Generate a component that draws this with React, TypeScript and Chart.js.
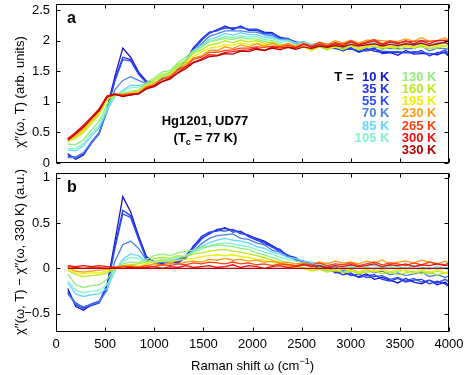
import React, { useEffect, useRef } from "react";
import { Chart, registerables } from "chart.js";
Chart.register(...registerables);

const FONT = "'Liberation Sans', Arial, Helvetica, sans-serif";

// Raman shift grid (cm^-1)
const ramanShift = [
  120, 200, 280, 360, 440, 520, 600, 680, 760, 840,
  920, 1000, 1080, 1160, 1240, 1320, 1400, 1480, 1560, 1640,
  1720, 1800, 1880, 1960, 2040, 2120, 2200, 2280, 2360, 2440,
  2520, 2600, 2680, 2760, 2840, 2920, 3000, 3080, 3160, 3240,
  3320, 3400, 3480, 3560, 3640, 3720, 3800, 3880, 3960, 4000,
];

const temperatures = ["10", "35", "55", "70", "85", "105", "130", "160", "195", "230", "265", "300", "330"];
const seriesColors = [
  "#1616c8", "#2233ec", "#2c4ef4", "#4a80e8", "#66d6ff", "#7ff5c8", "#8ef07a",
  "#b8e818", "#eeee00", "#ff9a10", "#ff4010", "#ee1010", "#b40000",
];

// chi''(w, 330 K), panel a
const chi330K = [
  0.37, 0.48, 0.59, 0.73, 0.86, 1.08, 1.12, 1.09, 1.11, 1.13,
  1.21, 1.25, 1.33, 1.37, 1.47, 1.54, 1.64, 1.68, 1.74, 1.75,
  1.79, 1.78, 1.83, 1.82, 1.86, 1.84, 1.88, 1.85, 1.89, 1.86,
  1.90, 1.87, 1.91, 1.89, 1.92, 1.90, 1.94, 1.91, 1.93, 1.95,
  1.91, 1.94, 1.92, 1.95, 1.93, 1.96, 1.92, 1.95, 1.97, 1.94,
];

// chi''(w, T) - chi''(w, 330 K), panel b
const diff10K = [
  -0.22, -0.42, -0.46, -0.40, -0.37, -0.18, 0.30, 0.79, 0.62, 0.36,
  0.13, 0.07, 0.05, 0.08, 0.06, 0.12, 0.25, 0.33, 0.38, 0.43,
  0.44, 0.42, 0.40, 0.36, 0.33, 0.30, 0.25, 0.20, 0.14, 0.12,
  0.06, 0.04, 0.00, 0.02, -0.05, -0.04, -0.07, -0.09, -0.06, -0.12,
  -0.10, -0.13, -0.16, -0.11, -0.15, -0.17, -0.13, -0.18, -0.15, -0.19,
];
const diff35K = [
  -0.25, -0.40, -0.44, -0.41, -0.38, -0.20, 0.25, 0.64, 0.58, 0.34,
  0.12, 0.06, 0.08, 0.05, 0.09, 0.14, 0.24, 0.35, 0.40, 0.41,
  0.45, 0.40, 0.41, 0.35, 0.31, 0.29, 0.23, 0.21, 0.13, 0.10,
  0.07, 0.02, 0.03, -0.02, -0.03, -0.07, -0.05, -0.10, -0.08, -0.07,
  -0.12, -0.14, -0.11, -0.15, -0.13, -0.12, -0.17, -0.14, -0.17, -0.20,
];
const diff55K = [
  -0.27, -0.38, -0.43, -0.39, -0.36, -0.22, 0.22, 0.60, 0.56, 0.32,
  0.10, 0.07, 0.04, 0.09, 0.07, 0.11, 0.22, 0.32, 0.39, 0.42,
  0.41, 0.43, 0.38, 0.37, 0.32, 0.27, 0.24, 0.18, 0.15, 0.09,
  0.08, 0.03, 0.01, 0.00, -0.04, -0.03, -0.08, -0.06, -0.10, -0.09,
  -0.08, -0.12, -0.10, -0.14, -0.11, -0.15, -0.13, -0.16, -0.12, -0.15,
];
const diff70K = [
  -0.28, -0.39, -0.42, -0.40, -0.37, -0.24, 0.08, 0.26, 0.30, 0.22,
  0.09, 0.06, 0.07, 0.05, 0.10, 0.12, 0.19, 0.27, 0.33, 0.36,
  0.37, 0.38, 0.33, 0.32, 0.28, 0.26, 0.20, 0.18, 0.13, 0.10,
  0.08, 0.05, 0.04, 0.01, 0.02, -0.02, -0.01, -0.04, -0.02, -0.05,
  -0.03, -0.07, -0.05, -0.08, -0.06, -0.04, -0.09, -0.07, -0.10, -0.08,
];
const diff85K = [
  -0.16, -0.28, -0.31, -0.29, -0.28, -0.22, -0.03, 0.10, 0.16, 0.14,
  0.08, 0.06, 0.09, 0.08, 0.11, 0.14, 0.19, 0.24, 0.28, 0.31,
  0.33, 0.31, 0.30, 0.28, 0.24, 0.22, 0.18, 0.16, 0.12, 0.11,
  0.08, 0.07, 0.05, 0.06, 0.03, 0.05, 0.04, 0.02, 0.05, 0.03,
  0.01, 0.04, 0.02, 0.00, 0.03, 0.01, -0.01, 0.02, 0.00, 0.01,
];
const diff105K = [
  -0.14, -0.24, -0.27, -0.25, -0.24, -0.18, -0.02, 0.08, 0.12, 0.11,
  0.07, 0.08, 0.10, 0.09, 0.12, 0.14, 0.18, 0.21, 0.25, 0.27,
  0.28, 0.27, 0.25, 0.24, 0.21, 0.18, 0.16, 0.12, 0.10, 0.08,
  0.06, 0.04, 0.05, 0.02, 0.03, 0.01, 0.02, 0.00, 0.02, -0.01,
  0.01, 0.02, -0.01, 0.01, 0.00, -0.02, 0.01, -0.01, 0.00, -0.02,
];
const diff130K = [
  -0.06, -0.18, -0.21, -0.19, -0.18, -0.12, 0.00, 0.05, 0.07, 0.06,
  0.10, 0.14, 0.16, 0.14, 0.17, 0.19, 0.20, 0.23, 0.24, 0.26,
  0.25, 0.24, 0.22, 0.21, 0.17, 0.15, 0.12, 0.09, 0.05, 0.03,
  0.01, -0.02, 0.00, -0.03, -0.01, -0.04, -0.02, -0.05, -0.02, -0.04,
  -0.01, -0.05, -0.03, -0.02, -0.05, -0.03, -0.06, -0.03, -0.05, -0.04,
];
const diff160K = [
  -0.02, -0.07, -0.09, -0.08, -0.07, -0.05, 0.00, 0.03, 0.04, 0.05,
  0.07, 0.11, 0.12, 0.11, 0.14, 0.13, 0.16, 0.17, 0.19, 0.20,
  0.21, 0.19, 0.18, 0.16, 0.14, 0.12, 0.09, 0.07, 0.04, 0.02,
  0.00, -0.03, -0.01, -0.04, -0.02, -0.05, -0.03, -0.06, -0.04, -0.03,
  -0.06, -0.04, -0.07, -0.05, -0.03, -0.06, -0.04, -0.07, -0.05, -0.06,
];
const diff195K = [
  0.00, -0.05, -0.06, -0.05, -0.05, -0.03, 0.00, 0.02, 0.03, 0.02,
  0.05, 0.07, 0.08, 0.07, 0.09, 0.10, 0.11, 0.13, 0.14, 0.15,
  0.14, 0.15, 0.13, 0.12, 0.10, 0.09, 0.07, 0.05, 0.03, 0.02,
  0.00, -0.02, 0.01, -0.01, -0.03, 0.00, -0.02, -0.04, -0.01, -0.03,
  -0.02, -0.04, -0.01, -0.03, -0.05, -0.02, -0.04, -0.02, -0.05, -0.03,
];
const diff230K = [
  0.01, -0.03, -0.04, -0.03, -0.02, -0.01, 0.01, 0.03, 0.03, 0.02,
  0.03, 0.05, 0.04, 0.06, 0.05, 0.07, 0.08, 0.07, 0.10, 0.09,
  0.11, 0.09, 0.10, 0.08, 0.09, 0.07, 0.08, 0.06, 0.07, 0.05,
  0.06, 0.04, 0.07, 0.05, 0.08, 0.06, 0.07, 0.05, 0.08, 0.06,
  0.09, 0.05, 0.07, 0.08, 0.06, 0.09, 0.07, 0.05, 0.08, 0.06,
];
const diff265K = [
  0.02, 0.01, 0.00, 0.01, 0.01, 0.00, 0.01, 0.02, 0.02, 0.01,
  0.03, 0.02, 0.04, 0.03, 0.05, 0.04, 0.06, 0.05, 0.07, 0.06,
  0.05, 0.07, 0.05, 0.06, 0.04, 0.05, 0.03, 0.05, 0.04, 0.03,
  0.05, 0.04, 0.06, 0.03, 0.05, 0.04, 0.06, 0.03, 0.05, 0.07,
  0.04, 0.06, 0.05, 0.03, 0.06, 0.04, 0.07, 0.05, 0.04, 0.06,
];
const diff300K = [
  0.03, 0.02, 0.03, 0.02, 0.03, 0.02, 0.01, 0.00, 0.01, 0.00,
  0.01, 0.02, 0.00, 0.02, 0.01, 0.03, 0.01, 0.02, 0.03, 0.01,
  0.02, 0.04, 0.01, 0.03, 0.02, 0.00, 0.02, 0.03, 0.01, 0.02,
  0.04, 0.02, 0.03, 0.01, 0.03, 0.02, 0.04, 0.02, 0.03, 0.05,
  0.02, 0.04, 0.03, 0.05, 0.02, 0.04, 0.03, 0.05, 0.03, 0.04,
];
const diff330K = [
  0, 0, 0, 0, 0, 0, 0, 0, 0, 0,
  0, 0, 0, 0, 0, 0, 0, 0, 0, 0,
  0, 0, 0, 0, 0, 0, 0, 0, 0, 0,
  0, 0, 0, 0, 0, 0, 0, 0, 0, 0,
  0, 0, 0, 0, 0, 0, 0, 0, 0, 0,
];
const diffSeries = [
  diff10K, diff35K, diff55K, diff70K, diff85K, diff105K, diff130K,
  diff160K, diff195K, diff230K, diff265K, diff300K, diff330K,
];

// axis ticks
const xTicks = [0, 500, 1000, 1500, 2000, 2500, 3000, 3500, 4000];
const yTicksA = [0, 0.5, 1, 1.5, 2, 2.5];
const yTicksB = [-0.5, 0, 0.5, 1];

const sampleName = "Hg1201, UD77";

function makeDatasets(panel: "a" | "b") {
  return temperatures.map((t, k) => ({
    label: t + " K",
    data: ramanShift.map((x, i) => ({
      x,
      y: panel === "b" ? diffSeries[k][i] : +(chi330K[i] + diffSeries[k][i]).toFixed(3),
    })),
    borderColor: seriesColors[k],
    backgroundColor: seriesColors[k],
    borderWidth: 1.3,
    pointRadius: 0,
    fill: false,
    tension: 0,
    order: temperatures.length - k,
  }));
}

const framePlugin = {
  id: "frame",
  afterDatasetsDraw(chart: any, _a: any, opts: any) {
    const { ctx, chartArea, scales } = chart;
    const { left, right, top, bottom } = chartArea;
    ctx.save();
    ctx.strokeStyle = "#000";
    ctx.lineWidth = 1;
    const L = Math.round(left) + 0.5, R = Math.round(right) - 0.5;
    const T = Math.round(top) + 0.5, B = Math.round(bottom) - 0.5;
    ctx.strokeRect(L, T, R - L, B - T);
    ctx.beginPath();
    for (const v of xTicks) {
      const px = Math.round(scales.x.getPixelForValue(v)) + 0.5;
      ctx.moveTo(px, B); ctx.lineTo(px, B - 4);
      ctx.moveTo(px, T); ctx.lineTo(px, T + 4);
    }
    for (const v of opts.yTicks as number[]) {
      const py = Math.round(scales.y.getPixelForValue(v)) + 0.5;
      ctx.moveTo(L, py); ctx.lineTo(L + 4, py);
      ctx.moveTo(R, py); ctx.lineTo(R - 4, py);
    }
    ctx.stroke();
    ctx.restore();
  },
};

function drawRotated(ctx: CanvasRenderingContext2D, text: string, x: number, y: number) {
  ctx.save();
  ctx.translate(x, y);
  ctx.rotate(-Math.PI / 2);
  ctx.textAlign = "center";
  ctx.textBaseline = "middle";
  ctx.fillText(text, 0, 0);
  ctx.restore();
}

const annotA = {
  id: "annotA",
  afterDraw(chart: any) {
    const ctx: CanvasRenderingContext2D = chart.ctx;
    ctx.save();
    ctx.fillStyle = "#000";
    ctx.textBaseline = "alphabetic";
    ctx.font = "bold 16px " + FONT;
    ctx.textAlign = "left";
    ctx.fillText("a", 67, 23);

    ctx.font = "bold 13px " + FONT;
    ctx.textAlign = "center";
    ctx.fillText(sampleName, 205, 125);
    // (Tc = 77 K)
    ctx.textAlign = "left";
    const p1 = "(T", p2 = "c", p3 = " = 77 K)";
    ctx.font = "bold 13px " + FONT;
    const w1 = ctx.measureText(p1).width, w3 = ctx.measureText(p3).width;
    ctx.font = "bold 9px " + FONT;
    const w2 = ctx.measureText(p2).width;
    const x0 = 205.5 - (w1 + w2 + w3) / 2;
    ctx.font = "bold 13px " + FONT;
    ctx.fillText(p1, x0, 142);
    ctx.font = "bold 9px " + FONT;
    ctx.fillText(p2, x0 + w1, 145);
    ctx.font = "bold 13px " + FONT;
    ctx.fillText(p3, x0 + w1 + w2, 142);

    // legend
    ctx.textAlign = "right";
    ctx.fillStyle = "#000";
    ctx.fillText("T =", 353.5, 80.5);
    temperatures.forEach((t, k) => {
      const col = k < 6 ? 0 : 1;
      const row = k < 6 ? k : k - 6;
      ctx.fillStyle = seriesColors[k];
      ctx.fillText(t + " K", col === 0 ? 389.5 : 436.5, 80.5 + row * 12.3);
    });

    ctx.fillStyle = "#000";
    ctx.font = "13px " + FONT;
    drawRotated(ctx, "\u03C7\u2032\u2032(\u03C9, T) (arb. units)", 20, 92);
    ctx.restore();
  },
};

const annotB = {
  id: "annotB",
  afterDraw(chart: any) {
    const ctx: CanvasRenderingContext2D = chart.ctx;
    ctx.save();
    ctx.fillStyle = "#000";
    ctx.textBaseline = "alphabetic";
    ctx.font = "bold 16px " + FONT;
    ctx.textAlign = "left";
    ctx.fillText("b", 67, 32);

    ctx.font = "13px " + FONT;
    drawRotated(ctx, "\u03C7\u2032\u2032(\u03C9, T) \u2212 \u03C7\u2032\u2032(\u03C9, 330 K) (a.u.)", 20, 92);

    // x title
    const p1 = "Raman shift \u03C9 (cm", p2 = "\u22121", p3 = ")";
    ctx.font = "13px " + FONT;
    const w1 = ctx.measureText(p1).width, w3 = ctx.measureText(p3).width;
    ctx.font = "9px " + FONT;
    const w2 = ctx.measureText(p2).width;
    const x0 = 252.5 - (w1 + w2 + w3) / 2;
    ctx.textAlign = "left";
    ctx.font = "13px " + FONT;
    ctx.fillText(p1, x0, 210);
    ctx.font = "9px " + FONT;
    ctx.fillText(p2, x0 + w1, 204);
    ctx.font = "13px " + FONT;
    ctx.fillText(p3, x0 + w1 + w2, 210);
    ctx.restore();
  },
};

const tickFont = { family: FONT, size: 13 };
const fmt = (v: any) => String(v).replace("-", "\u2212");

const fixX = (h: number) => (s: any) => {
  s.height = h;
  s.paddingLeft = 0;
  s.paddingRight = 0;
  s.paddingTop = 0;
  s.paddingBottom = 0;
};
const fixY = (s: any) => {
  s.width = 56;
  s.paddingTop = 0;
  s.paddingBottom = 0;
  s.paddingLeft = 0;
  s.paddingRight = 0;
};

export default function App() {
  const refA = useRef<HTMLCanvasElement>(null);
  const refB = useRef<HTMLCanvasElement>(null);

  useEffect(() => {
    const chartA = new Chart(refA.current as HTMLCanvasElement, {
      type: "line",
      data: { datasets: makeDatasets("a") as any },
      plugins: [framePlugin, annotA],
      options: {
        animation: false,
        responsive: false,
        events: [],
        layout: { padding: { left: 0, top: 4, right: 18, bottom: 0 } },
        plugins: {
          legend: { display: false },
          tooltip: { enabled: false },
          frame: { yTicks: yTicksA },
        } as any,
        scales: {
          x: {
            type: "linear",
            min: 0,
            max: 4000,
            grid: { display: false, drawTicks: false },
            border: { display: false },
            ticks: { display: false },
            afterBuildTicks: (s: any) => { s.ticks = xTicks.map((value) => ({ value })); },
            afterFit: fixX(12),
          },
          y: {
            type: "linear",
            min: 0,
            max: 2.6,
            grid: { display: false, drawTicks: false },
            border: { display: false },
            ticks: { font: tickFont, color: "#000", padding: 6, callback: fmt },
            afterBuildTicks: (s: any) => { s.ticks = yTicksA.map((value) => ({ value })); },
            afterFit: fixY,
          },
        },
      } as any,
    });

    const chartB = new Chart(refB.current as HTMLCanvasElement, {
      type: "line",
      data: { datasets: makeDatasets("b") as any },
      plugins: [framePlugin, annotB],
      options: {
        animation: false,
        responsive: false,
        events: [],
        layout: { padding: { left: 0, top: 13, right: 18, bottom: 0 } },
        plugins: {
          legend: { display: false },
          tooltip: { enabled: false },
          frame: { yTicks: yTicksB },
        } as any,
        scales: {
          x: {
            type: "linear",
            min: 0,
            max: 4000,
            grid: { display: false, drawTicks: false },
            border: { display: false },
            ticks: { font: tickFont, color: "#000", padding: 5, maxRotation: 0, callback: fmt },
            afterBuildTicks: (s: any) => { s.ticks = xTicks.map((value) => ({ value })); },
            afterFit: fixX(43),
          },
          y: {
            type: "linear",
            min: -0.7,
            max: 1.05,
            grid: { display: false, drawTicks: false },
            border: { display: false },
            ticks: { font: tickFont, color: "#000", padding: 6, callback: fmt },
            afterBuildTicks: (s: any) => { s.ticks = yTicksB.map((value) => ({ value })); },
            afterFit: fixY,
          },
        },
      } as any,
    });

    return () => {
      chartA.destroy();
      chartB.destroy();
    };
  }, []);

  return (
    <div style={{ position: "fixed", left: 0, top: 0, width: 467, height: 375, background: "#fff", overflow: "hidden" }}>
      <canvas ref={refA} width={467} height={175} style={{ position: "absolute", left: 0, top: 0 }} />
      <canvas ref={refB} width={467} height={215} style={{ position: "absolute", left: 0, top: 160 }} />
    </div>
  );
}
